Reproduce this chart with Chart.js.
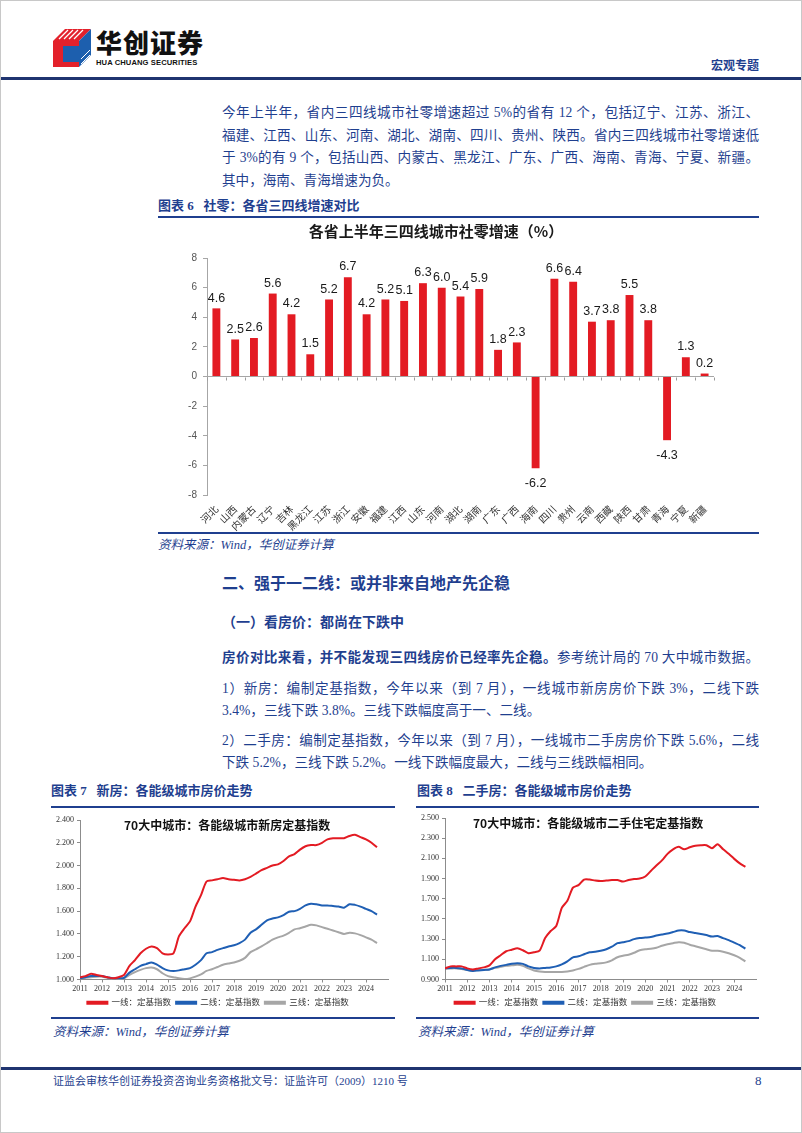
<!DOCTYPE html>
<html>
<head>
<meta charset="utf-8">
<script src="https://cdn.jsdelivr.net/npm/chart.js@4.4.1/dist/chart.umd.min.js"></script>
<style>
  html, body { margin: 0; padding: 0; background: #fff; }
  #page { position: relative; width: 802px; height: 1133px; overflow: hidden; box-sizing: border-box; border: 1px solid #c8c8c8;
    font-family: "Liberation Serif", "Noto Sans CJK SC", serif; color: #1f3f8f; }
  .abs { position: absolute; white-space: nowrap; }
  .txt { position: absolute; left: 221px; width: 537px; font-size: 13.6px; line-height: 20px; height: 20px; overflow: visible; }
  .just { text-align: justify; text-align-last: justify; }
  .rule { position: absolute; height: 2px; background: #1f3f8f; }
  .cap { font-size: 13px; font-weight: bold; line-height: 18px; }
  .src { font-size: 12.5px; font-style: italic; line-height: 16px; }
  .ctitle { position: absolute; font-family: "Noto Sans CJK SC", sans-serif; font-weight: bold; font-size: 12px; color: #111; line-height: 16px; white-space: nowrap; }
  canvas { position: absolute; }
</style>
</head>
<body>
<div id="page">
  <!-- header -->
  <svg class="abs" style="left:52px;top:28px" width="38" height="38" viewBox="0 0 38 38">
    <polygon points="0,12 12,0 38,0 26,12" fill="#e3212b"/>
    <g stroke="#fff" stroke-width="1.2">
      <line x1="6" y1="10" x2="15" y2="1"/><line x1="11" y1="10" x2="20" y2="1"/>
      <line x1="16" y1="10" x2="25" y2="1"/><line x1="21" y1="10" x2="30" y2="1"/>
    </g>
    <polygon points="0,12 26,12 26,38 0,38" fill="#e3212b"/>
    <polygon points="26,12 38,0 38,26 26,38" fill="#1d5fae"/>
    <rect x="10" y="17" width="16" height="16" fill="#1d5fae"/>
    <g stroke="#fff" stroke-width="1">
      <line x1="28" y1="30" x2="37" y2="21"/><line x1="28" y1="35" x2="37" y2="26"/>
    </g>
  </svg>
  <div class="abs" style="left:95px;top:26px;font-family:'Noto Sans CJK SC';font-weight:900;font-size:26px;line-height:30px;color:#111;letter-spacing:1px">华创证券</div>
  <div class="abs" style="left:95px;top:57px;font-family:'Liberation Sans';font-weight:bold;font-size:7.6px;line-height:9px;color:#111;letter-spacing:0.1px">HUA CHUANG SECURITIES</div>
  <div class="abs" style="left:710px;top:56px;font-family:'Noto Sans CJK SC';font-weight:bold;font-size:12px;line-height:16px;color:#1f3f8f">宏观专题</div>
  <div class="rule" style="left:0;top:76px;width:802px;height:3px;background:#1f3470"></div>

  <!-- paragraph -->
  <div class="txt just" style="top:102px">今年上半年，省内三四线城市社零增速超过 5%的省有 12 个，包括辽宁、江苏、浙江、</div>
  <div class="txt just" style="top:124.5px">福建、江西、山东、河南、湖北、湖南、四川、贵州、陕西。省内三四线城市社零增速低</div>
  <div class="txt just" style="top:147px">于 3%的有 9 个，包括山西、内蒙古、黑龙江、广东、广西、海南、青海、宁夏、新疆。</div>
  <div class="txt" style="top:169.5px">其中，海南、青海增速为负。</div>

  <div class="abs cap" style="left:157px;top:196px">图表 6&nbsp;&nbsp;&nbsp;社零：各省三四线增速对比</div>
  <div class="rule" style="left:157px;top:215px;width:601px"></div>
  <canvas id="retailChart" width="603" height="313" style="left:157px;top:218px"></canvas>
  <div class="rule" style="left:157px;top:531px;width:601px"></div>
  <div class="abs src" style="left:157px;top:536px">资料来源：Wind，华创证券计算</div>

  <div class="abs" style="left:221px;top:572px;font-size:16px;font-weight:bold;line-height:22px">二、强于一二线：或并非来自地产先企稳</div>
  <div class="abs" style="left:221px;top:612px;font-size:14px;font-weight:bold;line-height:20px">（一）看房价：都尚在下跌中</div>
  <div class="txt just" style="top:647px"><b>房价对比来看，并不能发现三四线房价已经率先企稳。</b>参考统计局的 70 大中城市数据。</div>
  <div class="txt just" style="top:678px">1）新房：编制定基指数，今年以来（到 7 月），一线城市新房房价下跌 3%，二线下跌</div>
  <div class="txt" style="top:700px">3.4%，三线下跌 3.8%。三线下跌幅度高于一、二线。</div>
  <div class="txt just" style="top:730px">2）二手房：编制定基指数，今年以来（到 7 月），一线城市二手房房价下跌 5.6%，二线</div>
  <div class="txt" style="top:752px">下跌 5.2%，三线下跌 5.2%。一线下跌幅度最大，二线与三线跌幅相同。</div>

  <div class="abs cap" style="left:50px;top:781px">图表 7&nbsp;&nbsp;&nbsp;新房：各能级城市房价走势</div>
  <div class="abs cap" style="left:416px;top:781px">图表 8&nbsp;&nbsp;&nbsp;二手房：各能级城市房价走势</div>
  <div class="rule" style="left:50px;top:805px;width:344px"></div>
  <div class="rule" style="left:415px;top:805px;width:343px"></div>

  <canvas id="newHomeChart" width="348" height="208" style="left:47px;top:808px"></canvas>
  <canvas id="resaleChart" width="347" height="208" style="left:413px;top:808px"></canvas>
  <div class="ctitle" style="left:123px;top:816px">70大中城市：各能级城市新房定基指数</div>
  <div class="ctitle" style="left:472px;top:814px">70大中城市：各能级城市二手住宅定基指数</div>

  <div class="rule" style="left:50px;top:1016px;width:344px"></div>
  <div class="rule" style="left:415px;top:1016px;width:343px"></div>
  <div class="abs src" style="left:52px;top:1023px">资料来源：Wind，华创证券计算</div>
  <div class="abs src" style="left:417px;top:1023px">资料来源：Wind，华创证券计算</div>

  <!-- footer -->
  <div class="rule" style="left:0;top:1066px;width:802px;height:3px;background:#1f3470"></div>
  <div class="abs" style="left:52px;top:1073px;font-size:11px;line-height:14px">证监会审核华创证券投资咨询业务资格批文号：证监许可（2009）1210 号</div>
  <div class="abs" style="left:754px;top:1072px;font-size:13px;line-height:16px">8</div>
</div>

<script>
// 图表6: 各省三四线城市社零增速
const provinces = ['河北', '山西', '内蒙古', '辽宁', '吉林', '黑龙江', '江苏', '浙江', '安徽', '福建', '江西', '山东', '河南', '湖北',
  '湖南', '广东', '广西', '海南', '四川', '贵州', '云南', '西藏', '陕西', '甘肃', '青海', '宁夏', '新疆'];
const retailGrowth = [4.6, 2.5, 2.6, 5.6, 4.2, 1.5, 5.2, 6.7, 4.2, 5.2, 5.1, 6.3, 6.0, 5.4,
  5.9, 1.8, 2.3, -6.2, 6.6, 6.4, 3.7, 3.8, 5.5, 3.8, -4.3, 1.3, 0.2];
const growthTicks = [-8, -6, -4, -2, 0, 2, 4, 6, 8];

// 图表7/8: 70大中城市定基指数, 季度取点 (2011Q1 - 2024Q3)
const yearTicks = [2011, 2012, 2013, 2014, 2015, 2016, 2017, 2018, 2019, 2020, 2021, 2022, 2023, 2024];
const newHomeTicks = [1.0, 1.2, 1.4, 1.6, 1.8, 2.0, 2.2, 2.4];
const resaleTicks = [0.9, 1.1, 1.3, 1.5, 1.7, 1.9, 2.1, 2.3, 2.5];

const newTier1 = [1.02, 1.03, 1.05, 1.04, 1.03, 1.02, 1.01, 1.02, 1.04, 1.12, 1.17, 1.23,
  1.27, 1.29, 1.275, 1.23, 1.22, 1.23, 1.38, 1.45, 1.51, 1.64, 1.74, 1.86,
  1.87, 1.88, 1.89, 1.88, 1.875, 1.87, 1.88, 1.90, 1.93, 1.96, 1.98, 2.00,
  2.01, 2.04, 2.08, 2.10, 2.14, 2.17, 2.18, 2.18, 2.20, 2.23, 2.24, 2.24,
  2.24, 2.26, 2.27, 2.25, 2.23, 2.20, 2.16];
const newTier2 = [1.01, 1.02, 1.03, 1.03, 1.03, 1.02, 1.01, 1.01, 1.015, 1.06, 1.09, 1.12,
  1.135, 1.15, 1.13, 1.10, 1.08, 1.075, 1.08, 1.09, 1.10, 1.13, 1.17, 1.23,
  1.24, 1.26, 1.275, 1.29, 1.30, 1.32, 1.35, 1.41, 1.44, 1.48, 1.52, 1.535,
  1.545, 1.565, 1.595, 1.60, 1.62, 1.65, 1.665, 1.66, 1.65, 1.65, 1.645, 1.64,
  1.63, 1.66, 1.655, 1.64, 1.62, 1.60, 1.57];
const newTier3 = [1.01, 1.015, 1.02, 1.025, 1.025, 1.015, 1.005, 1.005, 1.01, 1.04, 1.065, 1.085,
  1.10, 1.105, 1.09, 1.055, 1.03, 1.02, 1.01, 1.005, 1.01, 1.025, 1.045, 1.075,
  1.09, 1.11, 1.13, 1.14, 1.15, 1.165, 1.19, 1.24, 1.265, 1.29, 1.32, 1.35,
  1.37, 1.385, 1.41, 1.44, 1.45, 1.465, 1.48, 1.475, 1.46, 1.445, 1.43, 1.415,
  1.40, 1.41, 1.405, 1.39, 1.37, 1.35, 1.32];

const resaleTier1 = [1.01, 1.03, 1.03, 1.03, 1.01, 1.00, 1.01, 1.02, 1.04, 1.10, 1.14, 1.18,
  1.195, 1.21, 1.19, 1.16, 1.17, 1.185, 1.31, 1.38, 1.43, 1.61, 1.68, 1.81,
  1.835, 1.89, 1.89, 1.88, 1.875, 1.88, 1.885, 1.885, 1.87, 1.885, 1.895, 1.90,
  1.92, 1.975, 2.03, 2.08, 2.145, 2.19, 2.215, 2.19, 2.21, 2.225, 2.23, 2.23,
  2.20, 2.24, 2.19, 2.145, 2.095, 2.05, 2.015];
const resaleTier2 = [1.01, 1.015, 1.015, 1.01, 0.995, 0.985, 0.99, 0.995, 1.00, 1.02, 1.035, 1.045,
  1.055, 1.06, 1.055, 1.03, 1.015, 1.01, 1.015, 1.02, 1.03, 1.05, 1.08, 1.12,
  1.13, 1.15, 1.17, 1.175, 1.185, 1.20, 1.225, 1.26, 1.27, 1.28, 1.30, 1.31,
  1.315, 1.32, 1.335, 1.345, 1.355, 1.37, 1.385, 1.385, 1.37, 1.36, 1.35, 1.34,
  1.325, 1.33, 1.31, 1.29, 1.265, 1.24, 1.205];
const resaleTier3 = [1.01, 1.01, 1.01, 1.005, 0.995, 0.99, 0.995, 0.995, 1.00, 1.015, 1.025, 1.035,
  1.04, 1.045, 1.035, 1.01, 0.99, 0.98, 0.975, 0.975, 0.975, 0.975, 0.98, 0.99,
  1.005, 1.025, 1.045, 1.055, 1.06, 1.07, 1.09, 1.12, 1.135, 1.145, 1.165, 1.19,
  1.20, 1.205, 1.215, 1.235, 1.25, 1.26, 1.27, 1.265, 1.245, 1.23, 1.215, 1.20,
  1.185, 1.185, 1.175, 1.16, 1.14, 1.115, 1.08];

// 季度在年轴上的位置
const quarters = [];
yearTicks.forEach(y => [0, 0.25, 0.5, 0.75].forEach(q => quarters.push(y + q)));
quarters.length = newTier1.length;

const RED = '#e31b23';
const BLUE = '#1f5fb4';
const GREY = '#a6a6a6';

const barValueLabels = {
  id: 'barValueLabels',
  afterDatasetsDraw(chart) {
    const ctx = chart.ctx;
    const bars = chart.getDatasetMeta(0).data;
    ctx.save();
    ctx.font = '12.5px "Liberation Sans", Arial, sans-serif';
    ctx.fillStyle = '#1a1a1a';
    ctx.textAlign = 'center';
    bars.forEach((bar, i) => {
      const v = retailGrowth[i];
      if (v >= 0) {
        ctx.textBaseline = 'bottom';
        ctx.fillText(v.toFixed(1), bar.x, bar.y - 4);
      } else {
        ctx.textBaseline = 'top';
        ctx.fillText(v.toFixed(1), bar.x, bar.y + 9);
      }
    });
    ctx.restore();
  }
};

// small tick marks along the zero line, between categories
const zeroTicks = {
  id: 'zeroTicks',
  afterDraw(chart) {
    const {ctx, scales: {x, y}} = chart;
    const y0 = Math.round(y.getPixelForValue(0)) + 0.5;
    ctx.save();
    ctx.strokeStyle = '#9a9a9a';
    ctx.lineWidth = 1;
    ctx.beginPath();
    for (let i = 0; i <= provinces.length; i++) {
      const px = Math.round(x.getPixelForValue(i - 0.5)) + 0.5;
      ctx.moveTo(px, y0);
      ctx.lineTo(px, y0 + 3);
    }
    ctx.stroke();
    ctx.restore();
  }
};

new Chart(document.getElementById('retailChart'), {
  type: 'bar',
  data: {
    labels: provinces,
    datasets: [{
      data: retailGrowth,
      backgroundColor: RED,
      barPercentage: 0.42,
      categoryPercentage: 1,
    }]
  },
  options: {
    responsive: false,
    animation: false,
    layout: {padding: {left: 0, right: 47, top: 0, bottom: 0}},
    plugins: {
      legend: {display: false},
      tooltip: {enabled: false},
      title: {
        display: true,
        text: '各省上半年三四线城市社零增速（%）',
        color: '#1a1a1a',
        font: {family: '"Noto Sans CJK SC", sans-serif', size: 15, weight: 'bold'},
        padding: {top: 3, bottom: 18},
      },
    },
    scales: {
      x: {
        grid: {display: false},
        border: {display: false},
        ticks: {
          autoSkip: false, maxRotation: 45, minRotation: 45, padding: 0,
          color: '#333', font: {family: '"Noto Sans CJK SC", sans-serif', size: 10},
        },
        afterFit(scale) { scale.height = 37; },
      },
      y: {
        min: -8,
        max: 8,
        afterBuildTicks(scale) { scale.ticks = growthTicks.map(v => ({value: v})); },
        ticks: {color: '#555', padding: 6, font: {family: '"Liberation Sans", sans-serif', size: 10}},
        grid: {
          color: c => (c.tick && c.tick.value === 0 ? '#a6a6a6' : 'rgba(0,0,0,0)'),
          tickColor: '#a6a6a6',
          tickLength: 4,
        },
        border: {color: '#a6a6a6'},
        afterFit(scale) { scale.width = 49; },
      },
    },
  },
  plugins: [barValueLabels, zeroTicks],
});

function lineSet(label, values, color) {
  return {
    label: label,
    data: values.map((v, i) => ({x: quarters[i], y: v})),
    borderColor: color,
    backgroundColor: color,
    borderWidth: 2,
    pointRadius: 0,
    tension: 0.25,
  };
}

function indexChart(canvasId, series, yMin, yMax, yTicks, yWidth, padTop, padRight) {
  return new Chart(document.getElementById(canvasId), {
    type: 'line',
    data: {
      datasets: [
        lineSet('一线：定基指数', series[0], RED),
        lineSet('二线：定基指数', series[1], BLUE),
        lineSet('三线：定基指数', series[2], GREY),
      ]
    },
    options: {
      responsive: false,
      animation: false,
      layout: {padding: {top: padTop, right: padRight, left: 0, bottom: 0}},
      plugins: {
        tooltip: {enabled: false},
        legend: {
          position: 'bottom',
          labels: {
            boxWidth: 20, boxHeight: 2, padding: 5, color: '#333',
            font: {family: '"Liberation Serif", "Noto Sans CJK SC", serif', size: 8.5},
          },
        },
      },
      scales: {
        x: {
          type: 'linear',
          min: 2011,
          max: 2025,
          afterBuildTicks(scale) { scale.ticks = yearTicks.map(v => ({value: v})); },
          ticks: {
            color: '#333', padding: 2, maxRotation: 0,
            font: {family: '"Liberation Serif", serif', size: 8},
            callback: v => String(v),
          },
          grid: {drawOnChartArea: false, color: '#8c8c8c', tickLength: 3},
          border: {color: '#8c8c8c'},
          afterFit(scale) { scale.height = 14; },
        },
        y: {
          min: yMin,
          max: yMax,
          afterBuildTicks(scale) { scale.ticks = yTicks.map(v => ({value: v})); },
          ticks: {
            color: '#333', padding: 3,
            font: {family: '"Liberation Serif", serif', size: 8},
            callback: v => Number(v).toFixed(3),
          },
          grid: {drawOnChartArea: false, color: '#8c8c8c', tickLength: 3},
          border: {color: '#8c8c8c'},
          afterFit(scale) { scale.width = yWidth; },
        },
      },
    },
  });
}

indexChart('newHomeChart', [newTier1, newTier2, newTier3], 1.0, 2.4, newHomeTicks, 32, 11, 8);
indexChart('resaleChart', [resaleTier1, resaleTier2, resaleTier3], 0.9, 2.5, resaleTicks, 31, 9, 4.5);
</script>
</body>
</html>
